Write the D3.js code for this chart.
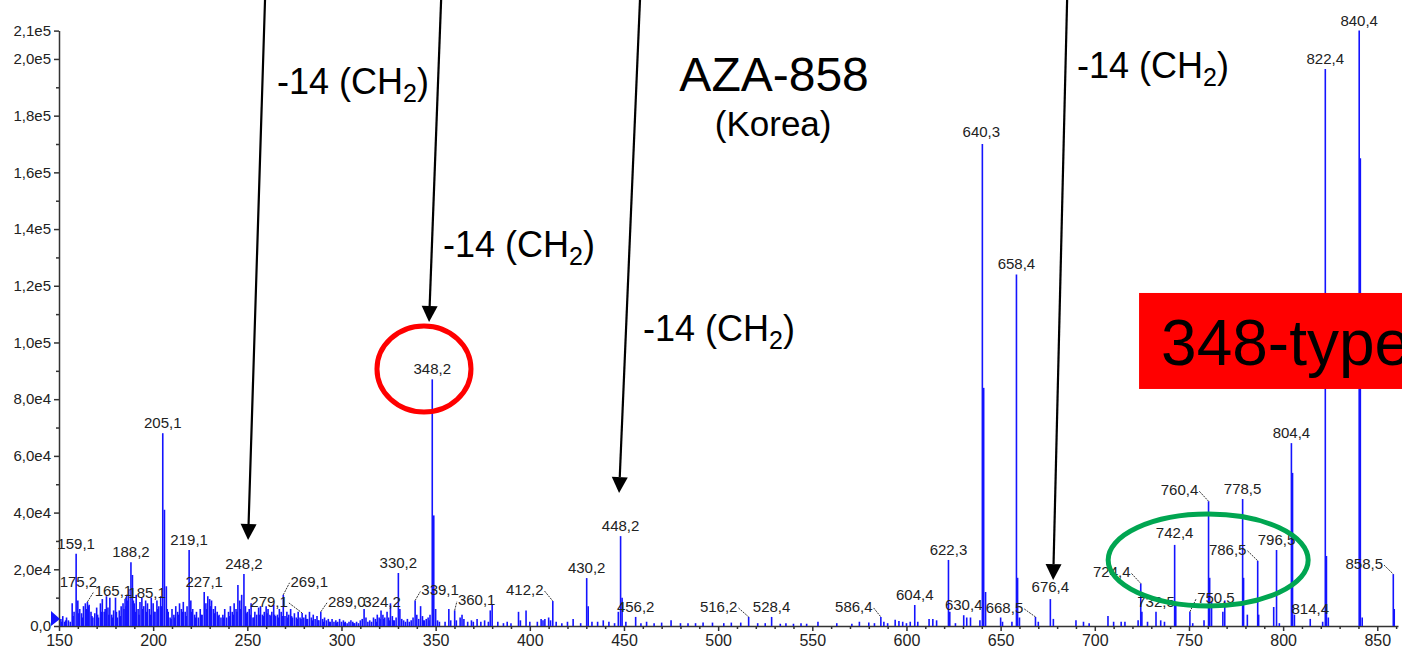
<!DOCTYPE html>
<html><head><meta charset="utf-8">
<script src="https://cdn.jsdelivr.net/npm/d3@7"></script>
<style>
html,body{margin:0;padding:0;background:#fff;overflow:hidden}
svg{display:block;font-family:"Liberation Sans",Arial,sans-serif}
</style></head><body>
<svg id="c" width="1402" height="656"></svg>
<script>
// ---------- DATA ----------
const labelMz  = [159.1,175.2,165.1,185.1,188.2,205.1,219.1,227.1,248.2,269.1,279.1,289.0,324.2,330.2,339.1,348.2,360.1,412.2,430.2,448.2,456.2,516.2,528.4,586.4,604.4,622.3,630.4,640.3,658.4,668.5,676.4,724.4,732.5,742.4,750.5,760.4,778.5,786.5,796.5,804.4,814.4,822.4,840.4,858.5];
const labelInt = [25500,10500,8500,9500,22500,68000,26800,12000,18300,11000,4600,5000,5000,18700,9000,87000,5500,8800,16900,31700,3200,3200,3200,3200,7400,23300,3800,170000,124000,3200,9500,15000,5000,28600,5000,44000,44800,23000,26800,64500,2500,196500,210000,18300];
const labelText = ["159,1","175,2","165,1","185,1","188,2","205,1","219,1","227,1","248,2","269,1","279,1","289,0","324,2","330,2","339,1","348,2","360,1","412,2","430,2","448,2","456,2","516,2","528,4","586,4","604,4","622,3","630,4","640,3","658,4","668,5","676,4","724,4","732,5","742,4","750,5","760,4","778,5","786,5","796,5","804,4","814,4","822,4","840,4","858,5"];

const noisePeaks = [
[151,2500],[152,3500],[153,1500],[154,3000],[155,2000],[156,1500],[157,8000],[158,5000],[160,9000],[161,6000],[162,4500],[163,7000],[164,8000],[166,7500],[167,5000],[168,3000],[169,4500],[170,6500],[171,3000],[172,8000],[173,9500],[174,5000],[176,6500],[177,10000],[178,4000],[179,5500],[180,10000],[181,3000],[182,5500],[183,7000],[184,8000],[186,11000],[187,13000],[189,18000],[190,8000],[191,11000],[192,6000],[193,8500],[194,10000],[195,7000],[196,9000],[197,8000],[198,6000],[199,10000],[200,8000],[201,5000],[202,9000],[203,7000],[204,10500],[206,41000],[207,14000],[208,5000],[209,3000],[210,6000],[211,4000],[212,7000],[213,5000],[214,8000],[215,6000],[216,8500],[217,5000],[218,7000],[220,9000],[221,6000],[222,4000],[223,5000],[224,3000],[225,6000],[226,4000],[228,8000],[229,10500],[230,9500],[231,9000],[232,6000],[233,7000],[234,5000],[235,4000],[236,3000],[237,4000],[238,6000],[239,3000],[240,5000],[241,7000],[242,5000],[243,8000],[244,6000],[245,14500],[246,9000],[247,11000],[249,7000],[250,5000],[251,6000],[252,8000],[253,3000],[254,5000],[255,4000],[256,6500],[257,7000],[258,4000],[259,5000],[260,7000],[261,6000],[262,4000],[263,5000],[264,7500],[265,3500],[266,4000],[267,6000],[268,5000],[270,3500],[271,5000],[272,4000],[273,6000],[274,3000],[275,4500],[276,3000],[277,5000],[278,3000],[280,3000],[281,4000],[282,2500],[283,5000],[284,3000],[285,4000],[286,2500],[287,3500],[288,2000],[290,2500],[291,3000],[292,2000],[293,2500],[294,1500],[295,2500],[296,1500],[297,2000],[298,1500],[299,2500],[300,1500],[301,2000],[302,1500],[303,1000],[304,1500],[305,2000],[306,1500],[307,1000],[308,1500],[309,1000],[310,2000],[311,2500],[312,6000],[313,3000],[314,1500],[315,2000],[316,1500],[317,3000],[318,2500],[319,4000],[320,3000],[321,5500],[322,4000],[323,3000],[325,3000],[326,8000],[327,3500],[328,2000],[329,3000],[331,6000],[332,2500],[333,2000],[334,1500],[335,2500],[336,1500],[337,2000],[338,3000],[340,4000],[341,2500],[342,7000],[343,3500],[344,2000],[345,2500],[346,3000],[347,4000],[349,39000],[350,6000],
[151.5,1500],[153.5,2000],[157.5,3500],[160.5,4500],[162.5,3000],[164.5,6000],[165.5,7000],[167.5,3500],[170.5,4000],[172.5,5000],[174.5,6000],[176.5,4000],[178.5,3000],[180.5,5000],[182.5,3500],[184.5,6000],[185.5,7000],[186.5,9000],[189.5,9000],[190.5,5000],[192.5,4000],[194.5,6000],[196.5,5000],[198.5,4000],[200.5,5000],[202.5,6000],[204.5,7000],[207.5,6000],[209.5,2500],[211.5,3000],[213.5,4000],[215.5,5000],[217.5,3500],[220.5,5000],[222.5,3000],[225.5,4000],[228.5,6000],[230.5,7000],[232.5,4500],[234.5,3500],[237.5,3000],[240.5,3500],[242.5,4000],[244.5,5000],[246.5,6000],[249.5,4500],[251.5,4000],[253.5,3000],[256.5,4000],[258.5,3500],[260.5,4500],[262.5,3500],[264.5,4000],[266.5,3000],[268.5,3500],[271.5,3000],[273.5,3500],[276.5,2500],[278.5,2500],[281.5,2500],[284.5,2000],[287.5,2000],[290.5,1500],[293.5,1500],[297.5,1200],[301.5,1200],[306.5,1000],[318.5,1500],[320.5,2500],[322.5,2500],[325.5,2000],[327.5,2000],[343.5,2000],[346.5,2000],
[351,2000],[352,1500],[355,1500],[357,6000],[358,2000],[361,2000],[363,3000],[364,4000],[365,2500],[367,1500],[369,2000],[370,1500],[372,2500],[374,1500],[376,2000],[378,1500],[379,5500],[380,7500],[383,1500],[386,1000],[388,1500],[390,1000],[394,5000],[395,2000],[398,5500],[400,1500],[404,1500],[406,2500],[407,2000],[408,2500],[410,3000],[411,2000],[414,1500],[417,1000],[420,1500],[423,2500],[427,1000],[431,7000],[433,1500],[436,1500],[439,2000],[442,1500],[445,1000],[447,5000],[449,10000],[451,1500],[459,1000],[462,1500],[466,1000],[470,1200],[475,2000],[480,1000],[484,1000],[488,1000],[492,1200],[497,1200],[503,1000],[507,1200],[512,1200],[521,1000],[525,1000],[533,800],[536,1000],[540,800],[544,1000],[547,800],[553,1500],[563,1000],[571,800],[575,1500],[580,1200],[583,1000],[588,1500],[590,1000],[594,2200],[596,1800],[598,1500],[600,1000],[602,1500],[606,1500],[612,2500],[614,2500],[616,2000],[623,5000],[626,1000],[632,3000],[634,3000],[639,2000],[641,84000],[642,12000],[650,3000],[651,1500],[656,1500],[659,17000],[660,3000],[670,1500],[678,2500],[690,2000],[694,1500],[697,1000],[707,3500],[710,1500],[714,1500],[716,1500],[723,2000],[725,5000],[728,1500],[735,2000],[737,1500],[743,8000],[752,1000],[758,2000],[761,17000],[762,8500],[768,5000],[769,9000],[779,17000],[781,4000],[787,4000],[795,6700],[798,1000],[805,54000],[806,4000],[821,1500],[823,24700],[824,3000],[841,165000],[842,3000],[859,6000]
];

const yTickValues = [0,20000,40000,60000,80000,100000,120000,140000,160000,180000,200000,210000];
const yTickLabels = ["0,0","2,0e4","4,0e4","6,0e4","8,0e4","1,0e5","1,2e5","1,4e5","1,6e5","1,8e5","2,0e5","2,1e5"];
const yMinorTicks = [10000,30000,50000,70000,90000,110000,130000,150000,170000,190000];
const xTickValues = [150,200,250,300,350,400,450,500,550,600,650,700,750,800,850];
const xTickLabels = ["150","200","250","300","350","400","450","500","550","600","650","700","750","800","850"];
const xMinorTicks = [160,170,180,190,210,220,230,240,260,270,280,290,310,320,330,340,360,370,380,390,410,420,430,440,460,470,480,490,510,520,530,540,560,570,580,590,610,620,630,640,660,670,680,690,710,720,730,740,760,770,780,790,810,820,830,840,860];

// ---------- LAYOUT (pixel offsets of peak labels relative to peak top) ----------
const labelLayout = {
 "175,2":[-28,-9], "165,1":[26,-6,"L"], "185,1":[22,-1,"L"], "269,1":[26,-8,"L"], "279,1":[-33,-6,"R"],
 "289,0":[26,-5,"L"], "324,2":[-5,-5], "339,1":[25,-5,"L"], "360,1":[22,-5,"L"], "412,2":[-28,-6,"R"],
 "516,2":[-30,-5,"R"], "586,4":[-27,-5,"R"], "668,5":[-31,-4,"R"], "724,4":[-29,-6,"R"], "750,5":[26,-9,"L"],
 "760,4":[-29,-6,"R"], "786,5":[-30,-6,"R"], "858,5":[-29,-5,"R"], "640,3":[-1,-7], "676,4":[0,-7], "742,4":[0,-7]
};

// ---------- SCALES ----------
const svg = d3.select("#c");
const x = d3.scaleLinear().domain([150, 861]).range([59, 1398]);
const y = d3.scaleLinear().domain([0, 210000]).range([626, 30.6]);

// ---------- AXES ----------
const axisColor = "#333";
const gy = svg.append("g").attr("transform", `translate(${x(150)},0)`)
  .call(d3.axisLeft(y).tickValues(yTickValues).tickSize(5).tickSizeOuter(0)
    .tickFormat((d,i)=>yTickLabels[i]));
const gyMin = svg.append("g").attr("transform", `translate(${x(150)},0)`)
  .call(d3.axisLeft(y).tickValues(yMinorTicks).tickSize(3).tickSizeOuter(0).tickFormat(""));
gyMin.select(".domain").remove();
const gx = svg.append("g").attr("transform", `translate(0,${y(0)})`)
  .call(d3.axisBottom(x).tickValues(xTickValues).tickSize(5).tickSizeOuter(0)
    .tickFormat((d,i)=>xTickLabels[i]));
const gxMin = svg.append("g").attr("transform", `translate(0,${y(0)})`)
  .call(d3.axisBottom(x).tickValues(xMinorTicks).tickSize(3).tickSizeOuter(0).tickFormat(""));
gxMin.select(".domain").remove();
[gy,gyMin,gx,gxMin].forEach(g=>{
  g.selectAll("path,line").attr("stroke",axisColor).attr("stroke-width",1.5);
  g.selectAll("text").attr("fill","#222").attr("font-family","Liberation Sans, Arial, sans-serif");
});
gy.selectAll("text").attr("font-size",15).attr("x",-8);
gx.selectAll("text").attr("font-size",16).attr("y",9);

// ---------- PEAKS ----------
const allPeaks = noisePeaks.map(([m,i])=>({m,i}))
  .concat(labelMz.map((m,k)=>({m, i:labelInt[k]})));
svg.append("g").selectAll("line").data(allPeaks).join("line")
  .attr("x1",d=>x(d.m)).attr("x2",d=>x(d.m))
  .attr("y1",y(0)).attr("y2",d=>y(d.i))
  .attr("stroke","#1414ff").attr("stroke-width",1.6);

// origin marker
const ox = x(150), oy = y(0);
svg.append("path").attr("d",`M${ox-8},${oy-15}L${ox-8},${oy}L${ox+1},${oy-7}Z`).attr("fill","#1414ff");

// ---------- PEAK LABELS ----------
const lg = svg.append("g");
labelMz.forEach((m,k)=>{
  const t = labelText[k];
  const lay = labelLayout[t] || [0,-5];
  const px = x(m), py = y(labelInt[k]);
  const tx = px + lay[0], ty = py + lay[1];
  const el = lg.append("text").attr("x",tx).attr("y",ty).attr("text-anchor","middle")
    .attr("font-size",15).attr("fill","#222").text(t);
  if (lay[2]) {
    const w = el.node().getComputedTextLength();
    let x1,y1,x2,y2;
    if (lay[2]==="L") { x1=px; y1=py; x2=tx-w/2-1; y2=ty-4; }
    else { x1=tx+w/2+1; y1=ty-4; x2=px; y2=py; }
    lg.append("line").attr("x1",x1).attr("y1",y1).attr("x2",x2).attr("y2",y2)
      .attr("stroke","#333").attr("stroke-width",1).attr("stroke-dasharray","2,1");
  }
});

// ---------- ANNOTATIONS (anchored in data units) ----------
const arrows = [
  {from:[259.4,220800], to:[250.4,30300]},
  {from:[352.9,220800], to:[346.5,107200]},
  {from:[458.5,220800], to:[447.4,46900]},
  {from:[685.3,220800], to:[677.9,16200]}
];
const ag = svg.append("g");
arrows.forEach(a=>{
  const x0=x(a.from[0]), y0=y(a.from[1]), x1=x(a.to[0]), y1=y(a.to[1]);
  const dx=x1-x0, dy=y1-y0, L=Math.hypot(dx,dy), ux=dx/L, uy=dy/L;
  const hl=16, hw=8;
  const bx=x1-ux*hl, by=y1-uy*hl;
  ag.append("line").attr("x1",x0).attr("y1",y0).attr("x2",bx).attr("y2",by)
    .attr("stroke","#000").attr("stroke-width",2.2);
  ag.append("path").attr("d",`M${x1},${y1}L${bx-uy*hw},${by+ux*hw}L${bx+uy*hw},${by-ux*hw}Z`).attr("fill","#000");
});

function ch2(mz, inten){
  const t = svg.append("text").attr("x",x(mz)).attr("y",y(inten)).attr("font-size",36).attr("fill","#000");
  t.append("tspan").text("-14 (CH");
  t.append("tspan").attr("font-size",25).attr("dy",8).text("2");
  t.append("tspan").attr("dy",-8).text(")");
}
ch2(265.8,187650);
ch2(353.9,130160);
ch2(460.1,100530);
ch2(690.6,193300);

svg.append("text").attr("x",x(529.7)).attr("y",y(188710)).attr("text-anchor","middle")
  .attr("font-size",48).attr("fill","#000").text("AZA-858");
svg.append("text").attr("x",x(529.2)).attr("y",y(172840)).attr("text-anchor","middle")
  .attr("font-size",35).attr("fill","#000").text("(Korea)");

// red circle around 348,2
svg.append("ellipse").attr("cx",x(343.8)).attr("cy",y(90650)).attr("rx",47).attr("ry",43)
  .attr("fill","none").attr("stroke","#ff0000").attr("stroke-width",5);
// green ellipse
svg.append("ellipse").attr("cx",x(760.2)).attr("cy",y(23280)).attr("rx",100).attr("ry",46)
  .attr("fill","none").attr("stroke","#00a651").attr("stroke-width",5);
// red box
svg.append("rect").attr("x",x(723.5)).attr("y",y(117460)).attr("width",300).attr("height",96).attr("fill","#ff0000");
svg.append("text").attr("x",x(735.2)).attr("y",y(92060)).attr("font-size",64).attr("fill","#000").text("348-type");
</script>
</body></html>
